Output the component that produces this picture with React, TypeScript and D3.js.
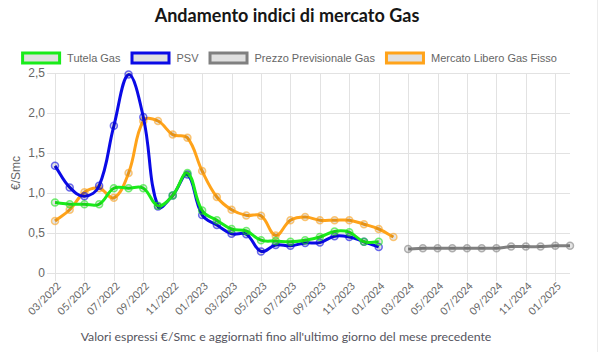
import React, { useEffect, useRef } from 'react';
import * as d3 from 'd3';

const categories = [
  '03/2022', '04/2022', '05/2022', '06/2022', '07/2022', '08/2022', '09/2022', '10/2022', '11/2022', '12/2022',
  '01/2023', '02/2023', '03/2023', '04/2023', '05/2023', '06/2023', '07/2023', '08/2023', '09/2023', '10/2023',
  '11/2023', '12/2023', '01/2024', '02/2024', '03/2024', '04/2024', '05/2024', '06/2024', '07/2024', '08/2024',
  '09/2024', '10/2024', '11/2024', '12/2024', '01/2025', '02/2025'
];

const tutelaGas = [
  0.88, 0.86, 0.86, 0.86, 1.06, 1.06, 1.06, 0.84, 0.97, 1.25,
  0.78, 0.66, 0.55, 0.525, 0.41, 0.40, 0.39, 0.41, 0.45, 0.52,
  0.51, 0.39, 0.39
];

const psv = [
  1.34, 1.07, 0.96, 1.09, 1.84, 2.48, 1.95, 0.83, 0.97, 1.23,
  0.725, 0.60, 0.49, 0.485, 0.27, 0.35, 0.34, 0.375, 0.38, 0.46,
  0.45, 0.39, 0.325
];

const mercatoLibero = [
  0.65, 0.79, 1.01, 1.06, 0.94, 1.25, 1.90, 1.90, 1.73, 1.69,
  1.275, 0.95, 0.79, 0.72, 0.715, 0.47, 0.66, 0.70, 0.66, 0.66,
  0.66, 0.61, 0.55, 0.45
];

// previsionale starts at 03/2024
const previsionaleStart = '03/2024';
const previsionale = [0.30, 0.31, 0.31, 0.31, 0.31, 0.31, 0.31, 0.33, 0.33, 0.33, 0.34, 0.34];

const yTicks = [0, 0.5, 1, 1.5, 2, 2.5];

const seriesNames = ['Tutela Gas', 'PSV', 'Prezzo Previsionale Gas', 'Mercato Libero Gas Fisso'];
const seriesColors = ['#1aeb1a', '#0a0ae6', '#808080', '#ffa31a'];

// chart.js style bezier ("tension" spline)
const curveChartJs = (tension: number) => (context: any) => {
  let pts: [number, number][] = [];
  return {
    areaStart() {},
    areaEnd() {},
    lineStart() { pts = []; },
    point(x: number, y: number) { pts.push([x, y]); },
    lineEnd() {
      if (!pts.length) return;
      const cps = pts.map((cur, i) => {
        const prev = pts[i - 1] || cur;
        const next = pts[i + 1] || cur;
        const d01 = Math.hypot(cur[0] - prev[0], cur[1] - prev[1]);
        const d12 = Math.hypot(next[0] - cur[0], next[1] - cur[1]);
        let s01 = d01 / (d01 + d12);
        let s12 = d12 / (d01 + d12);
        if (isNaN(s01)) s01 = 0;
        if (isNaN(s12)) s12 = 0;
        const fa = tension * s01;
        const fb = tension * s12;
        return {
          px: cur[0] - fa * (next[0] - prev[0]),
          py: cur[1] - fa * (next[1] - prev[1]),
          nx: cur[0] + fb * (next[0] - prev[0]),
          ny: cur[1] + fb * (next[1] - prev[1])
        };
      });
      context.moveTo(pts[0][0], pts[0][1]);
      for (let i = 1; i < pts.length; i++) {
        context.bezierCurveTo(cps[i - 1].nx, cps[i - 1].ny, cps[i].px, cps[i].py, pts[i][0], pts[i][1]);
      }
    }
  };
};

const App = () => {
  const svgRef = useRef<SVGSVGElement>(null);

  useEffect(() => {
    const width = 600;
    const height = 352;
    const left = 55;
    const right = 570;
    const top = 73;
    const bottom = 273;
    const centerX = 286;

    const svg = d3.select(svgRef.current);
    svg.selectAll('*').remove();

    const x = d3.scalePoint().domain(categories).range([left, right]);
    const y = d3.scaleLinear().domain([0, 2.5]).range([bottom, top]);

    // card edge on the right
    svg.append('line')
      .attr('x1', 597.5).attr('x2', 597.5)
      .attr('y1', 0).attr('y2', height)
      .attr('stroke', '#ececec');

    // title
    svg.append('text')
      .attr('x', centerX + 1)
      .attr('y', 22)
      .attr('text-anchor', 'middle')
      .style('font-family', 'Lato, sans-serif')
      .style('font-size', '18px')
      .style('font-weight', 700)
      .attr('fill', '#161616')
      .text('Andamento indici di mercato Gas');

    // grid
    const grid = svg.append('g');
    grid.selectAll('line.h')
      .data(yTicks)
      .join('line')
      .attr('class', 'h')
      .attr('x1', left - 8)
      .attr('x2', right)
      .attr('y1', d => Math.round(y(d)) + 0.5)
      .attr('y2', d => Math.round(y(d)) + 0.5)
      .attr('stroke', '#e2e2e2');

    const shownCats = categories.filter((_, i) => i % 2 === 0);
    grid.selectAll('line.v')
      .data(shownCats)
      .join('line')
      .attr('class', 'v')
      .attr('x1', d => Math.round(x(d)!) + 0.5)
      .attr('x2', d => Math.round(x(d)!) + 0.5)
      .attr('y1', top)
      .attr('y2', bottom + 8)
      .attr('stroke', '#e2e2e2');

    // y labels
    svg.append('g')
      .selectAll('text')
      .data(yTicks)
      .join('text')
      .attr('x', 45)
      .attr('y', d => y(d) + 4)
      .attr('text-anchor', 'end')
      .style('font-family', '"Liberation Sans", Arial, sans-serif')
      .style('font-size', '12px')
      .attr('fill', '#666')
      .text(d => (d === 0 ? '0' : d3.format('.1f')(d).replace('.', ',')));

    svg.append('text')
      .attr('transform', `translate(20,${(top + bottom) / 2}) rotate(-90)`)
      .attr('text-anchor', 'middle')
      .style('font-family', '"Liberation Sans", Arial, sans-serif')
      .style('font-size', '12px')
      .attr('fill', '#666')
      .text('€/Smc');

    // x labels
    svg.append('g')
      .selectAll('text')
      .data(shownCats)
      .join('text')
      .attr('transform', d => `translate(${x(d)! + 4},${bottom + 11}) rotate(-45)`)
      .attr('text-anchor', 'end')
      .attr('dy', '0.35em')
      .style('font-family', 'Lato, sans-serif')
      .style('font-size', '10.5px')
      .attr('fill', '#666')
      .text(d => d);

    // footer
    svg.append('text')
      .attr('x', centerX)
      .attr('y', 341)
      .attr('text-anchor', 'middle')
      .style('font-family', 'Lato, sans-serif')
      .style('font-size', '12.3px')
      .attr('fill', '#555560')
      .text("Valori espressi €/Smc e aggiornati fino all'ultimo giorno del mese precedente");

    // series
    const startIdx = categories.indexOf(previsionaleStart);
    const series = [
      { values: tutelaGas.map((v, i) => ({ c: categories[i], v })), color: seriesColors[0] },
      { values: psv.map((v, i) => ({ c: categories[i], v })), color: seriesColors[1] },
      { values: previsionale.map((v, i) => ({ c: categories[startIdx + i], v })), color: seriesColors[2] },
      { values: mercatoLibero.map((v, i) => ({ c: categories[i], v })), color: seriesColors[3] }
    ];

    const line = d3.line<{ c: string; v: number }>()
      .x(d => x(d.c)!)
      .y(d => y(d.v))
      .curve(curveChartJs(0.4) as any);

    // first dataset drawn on top
    const drawOrder = [3, 2, 1, 0];
    drawOrder.forEach(k => {
      const s = series[k];
      const g = svg.append('g');
      g.append('path')
        .attr('d', line(s.values))
        .attr('fill', 'none')
        .attr('stroke', s.color)
        .attr('stroke-width', 3)
        .attr('stroke-linejoin', 'round');
      g.selectAll('circle')
        .data(s.values)
        .join('circle')
        .attr('cx', d => x(d.c)!)
        .attr('cy', d => y(d.v))
        .attr('r', 3.5)
        .attr('fill', 'rgba(0,0,0,0.1)')
        .attr('stroke', s.color)
        .attr('stroke-opacity', 0.6)
        .attr('stroke-width', 1.5);
    });

    // legend
    const legend = svg.append('g');
    const items = legend.selectAll('g')
      .data(seriesNames)
      .join('g');
    items.append('rect')
      .attr('width', 37)
      .attr('height', 10)
      .attr('y', 53)
      .attr('fill', '#e0e0e0')
      .attr('stroke', (_, i) => seriesColors[i])
      .attr('stroke-width', 3);
    items.append('text')
      .attr('y', 62)
      .style('font-family', '"Liberation Sans", Arial, sans-serif')
      .style('font-size', '11px')
      .attr('fill', '#666')
      .text(d => d);

    const widths: number[] = [];
    items.select('text').each(function () {
      widths.push((this as SVGTextElement).getComputedTextLength());
    });
    const itemW = widths.map(w => 40 + 6 + w);
    const total = d3.sum(itemW) + 10 * (itemW.length - 1);
    let cx = 289 - total / 2;
    items.each(function (_, i) {
      const g = d3.select(this);
      g.select('rect').attr('x', cx + 1.5);
      g.select('text').attr('x', cx + 46);
      cx += itemW[i] + 10;
    });

    svg.attr('width', width).attr('height', height);
  }, []);

  return (
    <svg
      ref={svgRef}
      width={600}
      height={352}
      style={{ position: 'absolute', left: 0, top: 0, background: '#fff' }}
    ></svg>
  );
};

export default App;
